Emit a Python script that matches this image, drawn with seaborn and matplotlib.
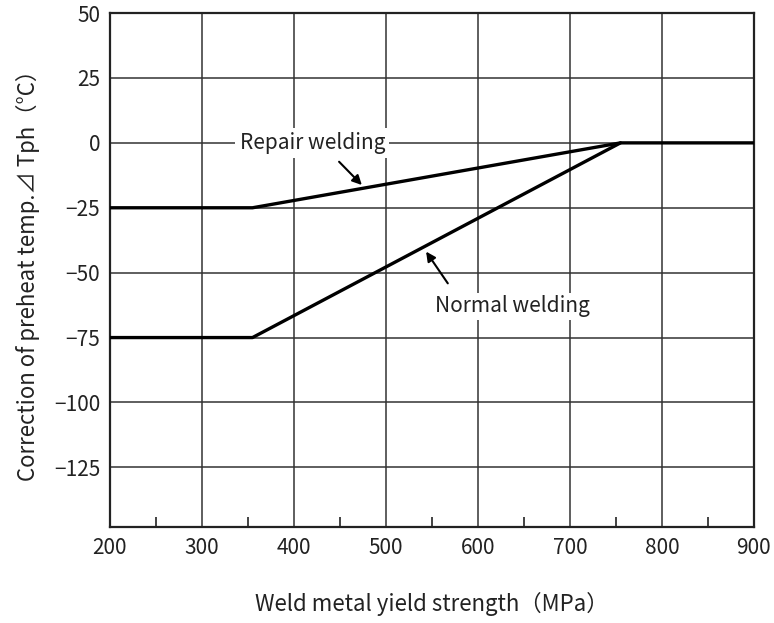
import matplotlib
matplotlib.use("Agg")
import matplotlib.pyplot as plt
import seaborn as sns
import pandas as pd

# values
repair_x = [200, 355, 755, 900]
repair_y = [-25, -25, 0, 0]
normal_x = [200, 355, 755]
normal_y = [-75, -75, 0]
x_ticks = [200, 300, 400, 500, 600, 700, 800, 900]
y_ticks = [50, 25, 0, -25, -50, -75, -100, -125]

sns.set_theme(style="white")
plt.rcParams['font.family'] = ['Noto Sans CJK JP', 'DejaVu Sans']

repair = pd.DataFrame({"x": repair_x, "y": repair_y})
normal = pd.DataFrame({"x": normal_x, "y": normal_y})

fig = plt.figure(figsize=(7.74, 6.23), dpi=100)
ax = fig.add_axes([0.142, 0.154, 0.832, 0.825])

sns.lineplot(data=repair, x="x", y="y", sort=False, color="black", lw=2.4, ax=ax, zorder=3)
sns.lineplot(data=normal, x="x", y="y", sort=False, color="black", lw=2.4, ax=ax, zorder=3)

ax.set_xlim(200, 900)
ax.set_ylim(-148, 50)
ax.set_xticks(x_ticks)
ax.set_yticks(y_ticks)
ax.set_xticks([250, 350, 450, 550, 650, 750, 850], minor=True)
ax.tick_params(axis="both", which="major", labelsize=15, length=0, pad=7, colors="#222222")
ax.tick_params(axis="x", which="minor", bottom=True, direction="in", length=7, width=1.2, color="#222222")
ax.grid(True, which="major", color="#333333", lw=1.1)
ax.set_axisbelow(True)
for s in ax.spines.values():
    s.set_color("#222222")
    s.set_linewidth(1.6)

ax.set_xlabel("Weld metal yield strength（MPa）", fontsize=16, labelpad=24, color="#222222")
ax.set_ylabel("Correction of preheat temp.⊿ Tph（°C）", fontsize=16, labelpad=10, color="#222222")

ax.text(420, 0, "Repair welding", fontsize=15, ha="center", va="center", color="#222222",
        bbox=dict(facecolor="white", edgecolor="none", pad=3), zorder=4)
ax.annotate("", xy=(476, -17), xytext=(447, -6.5),
            arrowprops=dict(arrowstyle="-|>", color="black", lw=1.5, mutation_scale=14), zorder=4)
ax.text(638, -63, "Normal welding", fontsize=15, ha="center", va="center", color="#222222",
        bbox=dict(facecolor="white", edgecolor="none", pad=2), zorder=4)
ax.annotate("", xy=(542, -41), xytext=(569, -55),
            arrowprops=dict(arrowstyle="-|>", color="black", lw=1.5, mutation_scale=14), zorder=4)

fig.savefig("out.png", dpi=100)
